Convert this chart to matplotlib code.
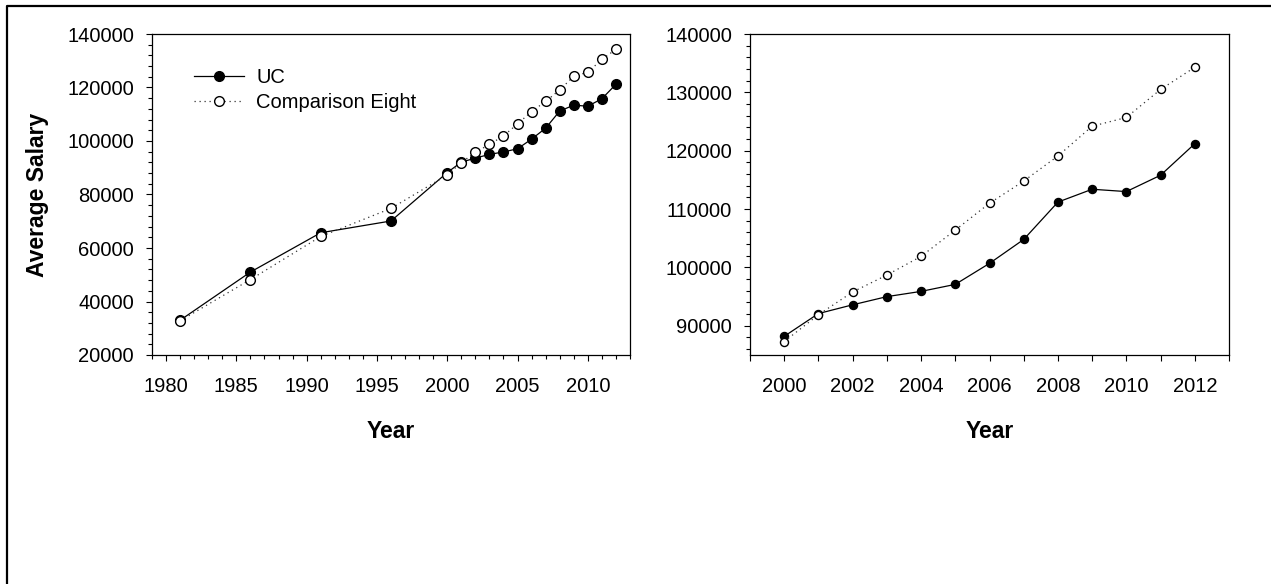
import matplotlib.pyplot as plt
import numpy as np
from matplotlib.lines import Line2D
from matplotlib.ticker import MultipleLocator

plt.rcParams['font.family'] = ['Liberation Sans', 'DejaVu Sans']

# Average salary by year
years = [1981, 1986, 1991, 1996, 2000, 2001, 2002, 2003, 2004, 2005, 2006,
         2007, 2008, 2009, 2010, 2011, 2012]
uc = [33000, 51000, 65700, 70100, 88200, 92100, 93600, 95000, 95900, 97100,
      100700, 104800, 111200, 113400, 113000, 115800, 121200]
comparison = [32800, 48200, 64300, 74800, 87300, 91900, 95800, 98700, 101900,
              106400, 111000, 114800, 119100, 124200, 125700, 130500, 134300]
series_labels = ["UC", "Comparison Eight"]

years = np.array(years)
uc = np.array(uc)
comparison = np.array(comparison)
recent = years >= 2000

fig = plt.figure(figsize=(12.71, 5.84), dpi=100)

# frame around the figure (left and top edges only visible)
fig.add_artist(Line2D([7 / 1271, 7 / 1271, 1.0], [0.0, 1 - 6 / 584, 1 - 6 / 584],
                      transform=fig.transFigure, color='black', lw=1.6))

ax1 = fig.add_axes([152 / 1271, 1 - 355 / 584, 478 / 1271, 321 / 584])
ax2 = fig.add_axes([750 / 1271, 1 - 355 / 584, 479 / 1271, 321 / 584])


def draw(ax, x, a, b, ms):
    ax.plot(x, a, '-o', color='black', lw=0.9, ms=ms, mfc='black', mec='black',
            label=series_labels[0], zorder=3)
    ax.plot(x, b, 'o', color='#333333', lw=0.9, ls=(0, (1, 3)), ms=ms,
            mfc='white', mec='black', mew=1.0, label=series_labels[1], zorder=4)
    ax.tick_params(which='both', direction='out', labelsize=14.5, width=0.8)
    ax.tick_params(which='major', length=4)
    ax.tick_params(which='minor', length=3)
    ax.tick_params(axis='x', pad=12)
    ax.tick_params(axis='y', pad=9)
    for s in ax.spines.values():
        s.set_linewidth(0.9)
    ax.set_xlabel("Year", fontsize=16.5, fontweight='bold', labelpad=17)


draw(ax1, years, uc, comparison, 7)
ax1.set_xlim(1979, 2013)
ax1.set_ylim(20000, 140000)
ax1.xaxis.set_major_locator(MultipleLocator(5))
ax1.xaxis.set_minor_locator(MultipleLocator(1))
ax1.yaxis.set_major_locator(MultipleLocator(20000))
ax1.yaxis.set_minor_locator(MultipleLocator(4000))
ax1.set_ylabel("Average Salary", fontsize=16.5, fontweight='bold', labelpad=13)
ax1.legend(loc='upper left', bbox_to_anchor=(0.088, 0.895), frameon=False,
           fontsize=14.5, handlelength=2.5, handletextpad=0.6, labelspacing=0.3,
           borderpad=0, borderaxespad=0)

draw(ax2, years[recent], uc[recent], comparison[recent], 5.8)
ax2.set_xlim(1999, 2013)
ax2.set_ylim(85000, 140000)
ax2.xaxis.set_major_locator(MultipleLocator(2))
ax2.xaxis.set_minor_locator(MultipleLocator(1))
ax2.tick_params(axis='x', which='minor', length=4)
ax2.yaxis.set_major_locator(MultipleLocator(10000))
ax2.yaxis.set_minor_locator(MultipleLocator(2000))

fig.savefig("out.png", dpi=100)
